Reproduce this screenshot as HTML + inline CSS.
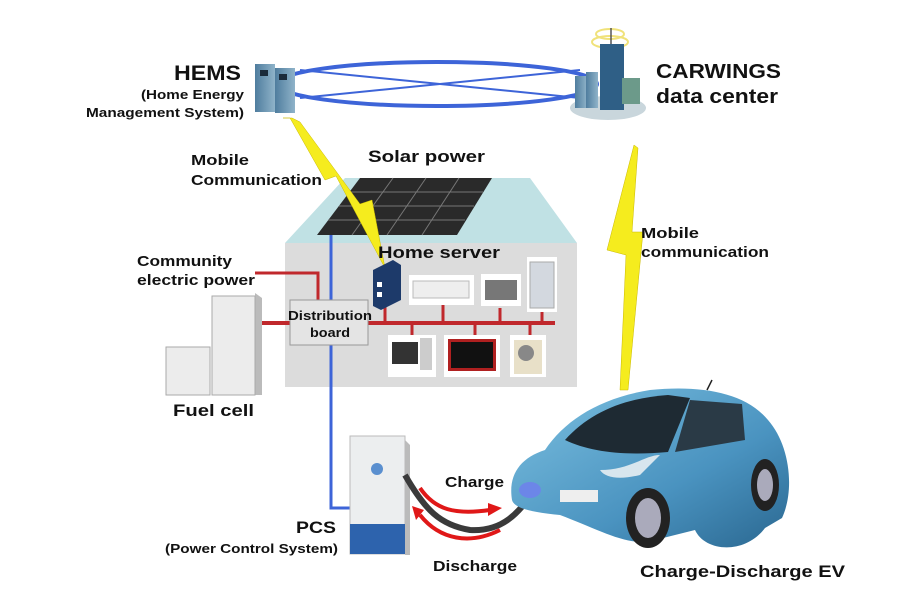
<!DOCTYPE html>
<html><head><meta charset="utf-8"><style>
html,body{margin:0;padding:0;background:#fff;}
svg{display:block;}
text{font-family:"Liberation Sans",Arial,sans-serif;font-weight:bold;fill:#111;}
</style></head><body>
<svg width="905" height="604" viewBox="0 0 905 604" xmlns="http://www.w3.org/2000/svg">
<defs>
<linearGradient id="car" x1="0" y1="0" x2="1" y2="1"><stop offset="0" stop-color="#7cc0e0"/><stop offset="0.6" stop-color="#4a93c0"/><stop offset="1" stop-color="#2a6790"/></linearGradient>
<linearGradient id="srv" x1="0" y1="0" x2="1" y2="0"><stop offset="0" stop-color="#4f7d9e"/><stop offset="1" stop-color="#8fb3c9"/></linearGradient>
</defs>
<!-- ring -->
<ellipse cx="437" cy="84" rx="160" ry="22" fill="none" stroke="#3d64d8" stroke-width="4"/>
<line x1="300" y1="70" x2="580" y2="98" stroke="#3d64d8" stroke-width="2"/>
<line x1="300" y1="98" x2="580" y2="70" stroke="#3d64d8" stroke-width="2"/>
<!-- HEMS servers -->
<rect x="255" y="64" width="20" height="48" fill="url(#srv)"/>
<rect x="275" y="68" width="20" height="45" fill="url(#srv)"/>
<rect x="260" y="70" width="8" height="6" fill="#1b2b3b"/><rect x="279" y="74" width="8" height="6" fill="#1b2b3b"/>
<text x="174" y="80" font-size="21" textLength="67" lengthAdjust="spacingAndGlyphs">HEMS</text>
<text x="141" y="99" font-size="13" textLength="103" lengthAdjust="spacingAndGlyphs">(Home Energy</text>
<text x="86" y="117" font-size="13" textLength="158" lengthAdjust="spacingAndGlyphs">Management System)</text>
<!-- CARWINGS -->
<ellipse cx="608" cy="108" rx="38" ry="12" fill="#c9d6dc"/>
<ellipse cx="610" cy="42" rx="18" ry="6" fill="none" stroke="#f0e27a" stroke-width="2"/>
<ellipse cx="610" cy="34" rx="14" ry="5" fill="none" stroke="#f0e27a" stroke-width="2"/>
<line x1="611" y1="28" x2="611" y2="45" stroke="#555" stroke-width="1.5"/>
<rect x="600" y="44" width="24" height="66" fill="#2f5f86"/>
<rect x="622" y="78" width="18" height="26" fill="#6c9a8a"/>
<rect x="575" y="76" width="12" height="32" fill="url(#srv)"/><rect x="586" y="72" width="12" height="36" fill="url(#srv)"/>
<text x="656" y="78" font-size="20" textLength="125" lengthAdjust="spacingAndGlyphs">CARWINGS</text>
<text x="656" y="103" font-size="20" textLength="122" lengthAdjust="spacingAndGlyphs">data center</text>
<!-- house -->
<polygon points="285,243 345,178 530,178 577,243" fill="#c0e1e4"/>
<rect x="285" y="243" width="292" height="144" fill="#dcdcdc"/>
<polygon points="360,178 492,178 457,235 317,235" fill="#2a2a2a"/>
<g stroke="#777" stroke-width="1">
<line x1="393" y1="178" x2="352" y2="235"/><line x1="426" y1="178" x2="387" y2="235"/><line x1="459" y1="178" x2="422" y2="235"/>
<line x1="349" y1="192" x2="483" y2="192"/><line x1="339" y1="206" x2="474" y2="206"/><line x1="328" y1="220" x2="465" y2="220"/>
</g>
<!-- lightning -->
<polygon points="283,118 290,118 325,180 336,176 385,268 372,200 360,204 300,122 292,118" fill="#f5ec1e" stroke="#c9b800" stroke-width="0.5"/>
<polygon points="634,145 638,148 632,232 643,232 628,390 620,390 626,255 607,250" fill="#f5ec1e" stroke="#c9b800" stroke-width="0.5"/>
<text x="191" y="165" font-size="15" textLength="58" lengthAdjust="spacingAndGlyphs">Mobile</text>
<text x="191" y="185" font-size="15" textLength="131" lengthAdjust="spacingAndGlyphs">Communication</text>
<text x="368" y="162" font-size="17" textLength="117" lengthAdjust="spacingAndGlyphs">Solar power</text>
<text x="641" y="238" font-size="15" textLength="58" lengthAdjust="spacingAndGlyphs">Mobile</text>
<text x="641" y="257" font-size="15" textLength="128" lengthAdjust="spacingAndGlyphs">communication</text>
<text x="378" y="258" font-size="17" textLength="122" lengthAdjust="spacingAndGlyphs">Home server</text>
<!-- blue line -->
<polyline points="331,235 331,508 360,508" fill="none" stroke="#3d64d8" stroke-width="3"/>
<!-- red lines -->
<polyline points="255,273 318,273 318,300" fill="none" stroke="#c0282c" stroke-width="3"/>
<line x1="255" y1="323" x2="555" y2="323" stroke="#c0282c" stroke-width="4"/>
<g stroke="#c0282c" stroke-width="3">
<line x1="385" y1="305" x2="385" y2="323"/><line x1="443" y1="305" x2="443" y2="323"/><line x1="500" y1="308" x2="500" y2="323"/><line x1="542" y1="312" x2="542" y2="323"/>
<line x1="412" y1="323" x2="412" y2="335"/><line x1="475" y1="323" x2="475" y2="335"/><line x1="530" y1="323" x2="530" y2="335"/>
</g>
<!-- fuel cell -->
<polygon points="255,293 262,298 262,395 255,395" fill="#bbb"/>
<rect x="212" y="296" width="43" height="99" fill="#ececec" stroke="#aaa"/>
<rect x="166" y="347" width="44" height="48" fill="#ececec" stroke="#aaa"/>
<text x="173" y="416" font-size="17" textLength="81" lengthAdjust="spacingAndGlyphs">Fuel cell</text>
<text x="137" y="266" font-size="15" textLength="95" lengthAdjust="spacingAndGlyphs">Community</text>
<text x="137" y="285" font-size="15" textLength="118" lengthAdjust="spacingAndGlyphs">electric power</text>
<!-- distribution board -->
<rect x="290" y="300" width="78" height="45" fill="#e4e4e4" stroke="#999"/>
<text x="288" y="320" font-size="13" textLength="84" lengthAdjust="spacingAndGlyphs">Distribution</text>
<text x="310" y="337" font-size="13" textLength="40" lengthAdjust="spacingAndGlyphs">board</text>
<!-- home server & appliances -->
<polygon points="373,270 393,260 401,265 401,300 381,310 373,306" fill="#1d3a6a"/>
<rect x="377" y="282" width="5" height="5" fill="#fff"/><rect x="377" y="292" width="5" height="5" fill="#fff"/>
<rect x="409" y="275" width="65" height="30" fill="#fff"/><rect x="413" y="281" width="56" height="17" fill="#eee" stroke="#bbb"/>
<rect x="481" y="274" width="40" height="32" fill="#fff"/><rect x="485" y="280" width="32" height="20" fill="#777"/>
<rect x="527" y="257" width="30" height="55" fill="#fff"/><rect x="530" y="262" width="24" height="46" fill="#d3d8df" stroke="#aaa"/>
<rect x="388" y="335" width="48" height="42" fill="#fff"/><rect x="392" y="342" width="26" height="22" fill="#333"/><rect x="420" y="338" width="12" height="32" fill="#ccc"/>
<rect x="444" y="335" width="56" height="42" fill="#fff"/><rect x="448" y="339" width="48" height="32" fill="#b02020"/><rect x="451" y="342" width="42" height="26" fill="#111"/>
<rect x="510" y="335" width="36" height="42" fill="#fff"/><rect x="514" y="340" width="28" height="34" fill="#e8e0c8"/><circle cx="526" cy="353" r="8" fill="#888"/>
<!-- PCS -->
<polygon points="405,440 410,445 410,555 405,555" fill="#bbb"/>
<rect x="350" y="436" width="55" height="118" fill="#eceeef" stroke="#bbb"/>
<rect x="350" y="524" width="55" height="30" fill="#2d63ad"/>
<circle cx="377" cy="469" r="6" fill="#5a8fcf"/>
<text x="296" y="533" font-size="17" textLength="40" lengthAdjust="spacingAndGlyphs">PCS</text>
<text x="165" y="553" font-size="13" textLength="173" lengthAdjust="spacingAndGlyphs">(Power Control System)</text>
<!-- cables & arrows -->
<path d="M405,475 C425,510 440,525 470,530 C505,532 520,510 535,490" fill="none" stroke="#3a3a3a" stroke-width="6"/>
<path d="M420,488 C435,510 455,515 490,510" fill="none" stroke="#e01818" stroke-width="4"/>
<polygon points="488,503 502,508 488,516" fill="#e01818"/>
<path d="M420,515 C440,540 470,545 500,530" fill="none" stroke="#e01818" stroke-width="4"/>
<polygon points="412,506 424,510 416,520" fill="#e01818"/>
<text x="445" y="487" font-size="15" textLength="59" lengthAdjust="spacingAndGlyphs">Charge</text>
<text x="433" y="571" font-size="15" textLength="84" lengthAdjust="spacingAndGlyphs">Discharge</text>
<!-- car -->
<path d="M512,500 C508,475 520,458 545,450 C565,420 600,398 650,390 C700,385 745,392 768,420 C790,445 795,490 782,518 L765,528 C745,555 705,552 695,530 L655,540 C630,548 600,530 560,515 C530,512 514,508 512,500 Z" fill="url(#car)"/>
<path d="M565,440 C590,412 625,398 668,395 L690,398 L668,452 C625,456 590,452 565,440 Z" fill="#1e2a33"/>
<path d="M690,400 L742,404 L745,440 L675,452 Z" fill="#2a3a46"/>
<path d="M600,470 C630,470 645,455 660,455 L640,475 C620,480 605,478 600,470 Z" fill="#d8e6ee"/>
<rect x="560" y="490" width="38" height="12" fill="#eee"/>
<ellipse cx="648" cy="518" rx="22" ry="30" fill="#222"/><ellipse cx="648" cy="518" rx="13" ry="20" fill="#aab"/>
<ellipse cx="765" cy="485" rx="14" ry="26" fill="#222"/><ellipse cx="765" cy="485" rx="8" ry="16" fill="#aab"/>
<ellipse cx="530" cy="490" rx="11" ry="8" fill="#6c86e8"/>
<line x1="707" y1="390" x2="712" y2="380" stroke="#222" stroke-width="1.5"/>
<text x="640" y="577" font-size="17" textLength="205" lengthAdjust="spacingAndGlyphs">Charge-Discharge EV</text>
</svg>
</body></html>
